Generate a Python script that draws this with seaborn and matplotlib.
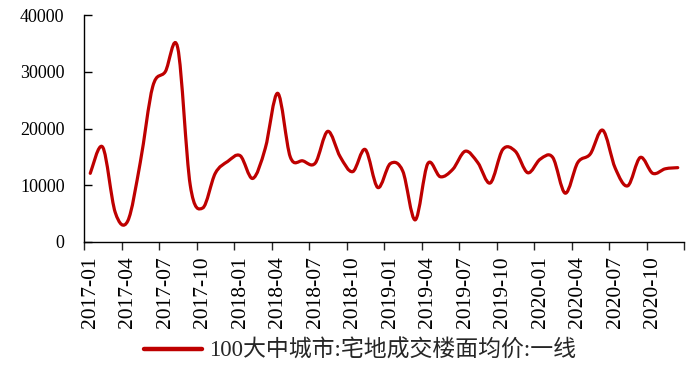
import numpy as np
import pandas as pd
import matplotlib
matplotlib.use("Agg")
import matplotlib.pyplot as plt
import seaborn as sns
from matplotlib.path import Path
from matplotlib.patches import PathPatch
from matplotlib.lines import Line2D

# 月份 (2017-01 ~ 2020-12)
months = pd.period_range("2017-01", "2020-12", freq="M").strftime("%Y-%m").tolist()

# 100大中城市:宅地成交楼面均价:一线 (元/平方米)
price = [
    12100, 16700, 5200, 3700, 14000, 27400, 30000, 34200, 10000, 6000, 12100, 14200,   # 2017
    15200, 11200, 16500, 26200, 15000, 14300, 13900, 19500, 15000, 12400, 16300, 9600,  # 2018
    13800, 12500, 3900, 13800, 11500, 12800, 16000, 14000, 10400, 16300, 16000, 12200,  # 2019
    14600, 14900, 8600, 14000, 15500, 19700, 13000, 9900, 14900, 12100, 12900, 13100,   # 2020
]
series_name = "100大中城市:宅地成交楼面均价:一线"
line_color = "#BE0000"

df = pd.DataFrame({"month": months, "price": price})
df["idx"] = np.arange(len(df))

sns.set_style("ticks")
plt.rcParams["font.family"] = ["Liberation Serif", "Noto Sans CJK SC"]

fig = plt.figure(figsize=(6.97, 3.74), dpi=100)
ax = fig.add_axes([84 / 697, 1 - 242 / 374, 600 / 697, 227 / 374])

# seaborn 画出折线，再用其点位做平滑曲线 (类似 Excel 的平滑线)
sns.lineplot(data=df, x="idx", y="price", ax=ax, color=line_color, lw=2.3)
raw = ax.lines[0]
pts = raw.get_xydata()
raw.set_visible(False)

verts = [tuple(pts[0])]
codes = [Path.MOVETO]
n = len(pts)
for i in range(n - 1):
    p0 = pts[max(i - 1, 0)]
    p1 = pts[i]
    p2 = pts[i + 1]
    p3 = pts[min(i + 2, n - 1)]
    c1 = p1 + (p2 - p0) / 6
    c2 = p2 - (p3 - p1) / 6
    verts += [tuple(c1), tuple(c2), tuple(p2)]
    codes += [Path.CURVE4] * 3
ax.add_patch(PathPatch(Path(verts, codes), fill=False, ec=line_color, lw=2.3,
                       capstyle="round", joinstyle="round"))

# 坐标轴
ax.set_xlim(-0.5, len(months) - 0.5)
ax.set_ylim(0, 40000)
ax.set_yticks(np.arange(0, 40001, 10000))
ax.set_xticks(np.arange(0, len(months), 3))
ax.set_xticklabels(months[::3], rotation=90)
ax.set_xticks(np.arange(-0.5, len(months), 3), minor=True)
ax.set_xlabel("")
ax.set_ylabel("")

for s in ["top", "right"]:
    ax.spines[s].set_visible(False)
for s in ["left", "bottom"]:
    ax.spines[s].set_color("black")
    ax.spines[s].set_linewidth(1.0)

ax.tick_params(axis="y", direction="in", length=6, width=1, labelsize=13, pad=14, colors="black")
ax.tick_params(axis="x", which="major", length=0, labelsize=15.5, pad=10, colors="black")
ax.tick_params(axis="x", which="minor", direction="out", length=6, width=1)

handle = Line2D([0], [0], color=line_color, lw=3.2)
fig.legend([handle], [series_name], loc="center", bbox_to_anchor=(360 / 697, 1 - 351 / 374),
           frameon=False, fontsize=16.5, handlelength=2.5, handletextpad=0.3)

fig.savefig("out.png", dpi=100)
